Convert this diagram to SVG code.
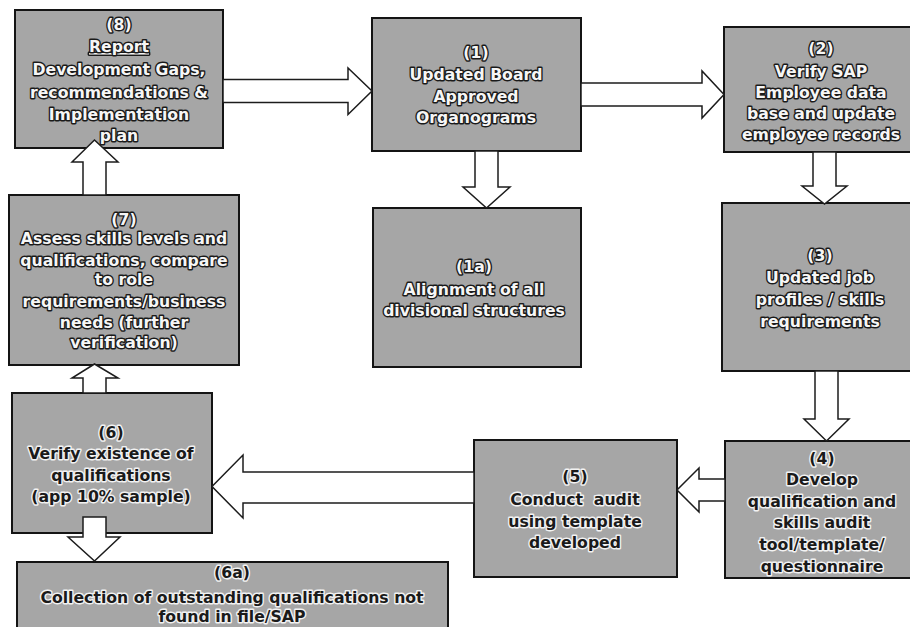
<svg xmlns="http://www.w3.org/2000/svg" width="910" height="627" viewBox="0 0 910 627">
  <style>
    .box { fill: #a6a6a6; stroke: #141414; stroke-width: 2; }
    .arrow { fill: #ffffff; stroke: #1c1c1c; stroke-width: 1.5; stroke-linejoin: miter; }
    text { font-family: "DejaVu Sans", Verdana, sans-serif; font-weight: bold; font-size: 15.7px; text-anchor: middle; paint-order: stroke; stroke-linejoin: round; white-space: pre; }
    .lt { fill: #f6f6f6; stroke: #1a1a1a; stroke-width: 2.8px; }
    .dk { fill: #1a1a1a; stroke: #f2f2f2; stroke-width: 2.8px; }
  </style>

  <rect width="910" height="627" fill="#ffffff"/>

  <!-- process steps -->
  <g id="step-8">
    <rect class="box" x="15" y="10" width="208" height="138"/>
    <text class="lt" x="119" y="30">(8)</text>
    <text class="lt" x="119" y="52" text-decoration="underline">Report</text>
    <text class="lt" x="119" y="75">Development Gaps,</text>
    <text class="lt" x="119" y="98">recommendations &amp;</text>
    <text class="lt" x="119" y="120">Implementation</text>
    <text class="lt" x="119" y="141">plan</text>
  </g>

  <g id="step-1">
    <rect class="box" x="372" y="18" width="209" height="133"/>
    <text class="lt" x="476" y="58">(1)</text>
    <text class="lt" x="476" y="80">Updated Board</text>
    <text class="lt" x="476" y="102">Approved</text>
    <text class="lt" x="476" y="123">Organograms</text>
  </g>

  <g id="step-2">
    <rect class="box" x="724" y="27" width="194" height="125"/>
    <text class="lt" x="821" y="54">(2)</text>
    <text class="lt" x="821" y="77">Verify SAP</text>
    <text class="lt" x="821" y="98">Employee data</text>
    <text class="lt" x="821" y="119">base and update</text>
    <text class="lt" x="821" y="140">employee records</text>
  </g>

  <g id="step-1a">
    <rect class="box" x="373" y="208" width="208" height="159"/>
    <text class="lt" x="474" y="272">(1a)</text>
    <text class="lt" x="474" y="295">Alignment of all</text>
    <text class="lt" x="474" y="316">divisional structures</text>
  </g>

  <g id="step-3">
    <rect class="box" x="722" y="203" width="196" height="168"/>
    <text class="lt" x="820" y="261">(3)</text>
    <text class="lt" x="820" y="283">Updated job</text>
    <text class="lt" x="820" y="305">profiles / skills</text>
    <text class="lt" x="820" y="327">requirements</text>
  </g>

  <g id="step-7">
    <rect class="box" x="9" y="195" width="230" height="170"/>
    <text class="lt" x="124" y="225">(7)</text>
    <text class="lt" x="124" y="244">Assess skills levels and</text>
    <text class="lt" x="124" y="266">qualifications, compare</text>
    <text class="lt" x="124" y="285">to role</text>
    <text class="lt" x="124" y="307">requirements/business</text>
    <text class="lt" x="124" y="328">needs (further</text>
    <text class="lt" x="124" y="348">verification)</text>
  </g>

  <g id="step-6">
    <rect class="box" x="12" y="393" width="200" height="140"/>
    <text class="dk" x="111" y="438">(6)</text>
    <text class="dk" x="111" y="459">Verify existence of</text>
    <text class="dk" x="111" y="481">qualifications</text>
    <text class="dk" x="111" y="502">(app 10% sample)</text>
  </g>

  <g id="step-5">
    <rect class="box" x="474" y="440" width="203" height="137"/>
    <text class="dk" x="575" y="482">(5)</text>
    <text class="dk" x="575" y="505" xml:space="preserve">Conduct  audit</text>
    <text class="dk" x="575" y="527">using template</text>
    <text class="dk" x="575" y="548">developed</text>
  </g>

  <g id="step-4">
    <rect class="box" x="725" y="441" width="193" height="137"/>
    <text class="dk" x="822" y="464">(4)</text>
    <text class="dk" x="822" y="485">Develop</text>
    <text class="dk" x="822" y="507">qualification and</text>
    <text class="dk" x="822" y="528">skills audit</text>
    <text class="dk" x="822" y="550">tool/template/</text>
    <text class="dk" x="822" y="572">questionnaire</text>
  </g>

  <g id="step-6a">
    <rect class="box" x="17" y="562" width="431" height="80"/>
    <text class="dk" x="232" y="578">(6a)</text>
    <text class="dk" x="232" y="603">Collection of outstanding qualifications not</text>
    <text class="dk" x="232" y="622">found in file/SAP</text>
  </g>

  <!-- block arrows between steps -->
  <g id="connectors">
    <!-- 8 -> 1 -->
    <polygon class="arrow" points="223,79.5 348,79.5 348,68 372,91 348,114.5 348,102.5 223,102.5"/>
    <!-- 1 -> 2 -->
    <polygon class="arrow" points="581,83 702,83 702,71 724,94.5 702,118 702,106 581,106"/>
    <!-- 1 -> 1a -->
    <polygon class="arrow" points="475,151 498,151 498,187 510,187 486.5,208 463,187 475,187"/>
    <!-- 2 -> 3 -->
    <polygon class="arrow" points="813,152 836,152 836,186 847,186 824.5,204 802,186 813,186"/>
    <!-- 3 -> 4 -->
    <polygon class="arrow" points="815,371 838,371 838,419 849,419 826.5,441 804,419 815,419"/>
    <!-- 4 -> 5 -->
    <polygon class="arrow" points="725,479 699,479 699,468 677,490 699,512 699,501 725,501"/>
    <!-- 5 -> 6 -->
    <polygon class="arrow" points="474,472 243,472 243,455 212,486.5 243,518 243,503 474,503"/>
    <!-- 6 -> 6a -->
    <polygon class="arrow" points="83,517 106,517 106,537 120,537 94.5,561 68,537 83,537"/>
    <!-- 6 -> 7 -->
    <polygon class="arrow" points="83,393 106,393 106,378 118,378 94.5,364 72,378 83,378"/>
    <!-- 7 -> 8 -->
    <polygon class="arrow" points="83,195 106,195 106,162 118,162 94.5,140 72,162 83,162"/>
  </g>
</svg>
